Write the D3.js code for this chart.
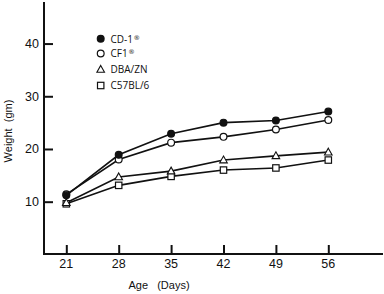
<!DOCTYPE html>
<html><head><meta charset="utf-8">
<script src="https://cdn.jsdelivr.net/npm/d3@7"></script>
<style>body{margin:0;background:#fff}svg{display:block}</style>
</head><body>
<script>
const days = [21, 28, 35, 42, 49, 56];
const cd1 = [11.2, 18.9, 22.9, 25.0, 25.4, 27.1];
const cf1 = [11.4, 18.0, 21.2, 22.3, 23.7, 25.5];
const dba = [9.8, 14.7, 15.8, 17.9, 18.7, 19.4];
const c57 = [9.6, 13.1, 14.8, 16.0, 16.4, 17.9];
const yTicks = [10, 20, 30, 40];
const seriesNames = ["CD-1", "CF1", "DBA/ZN", "C57BL/6"];
const seriesMarks = ["\u00ae", "\u00ae", "", ""];

const W = 384, H = 294;
const svg = d3.select("body").append("svg").attr("width", W).attr("height", H);
const x = d3.scaleLinear().domain([21, 56]).range([66.3, 328.3]);
const y = d3.scaleLinear().domain([0, 48]).range([254.4, 1.4]);
const font = "Arial, 'Liberation Sans', sans-serif";

// axes lines
const axisY = 254;
svg.append("line").attr("x1", 44).attr("x2", 44).attr("y1", 2).attr("y2", axisY + 1)
  .attr("stroke", "#111").attr("stroke-width", 2);
svg.append("line").attr("x1", 43).attr("x2", 383).attr("y1", axisY).attr("y2", axisY)
  .attr("stroke", "#111").attr("stroke-width", 2);

// y axis ticks
const yAxis = d3.axisRight(y).tickValues(yTicks).tickSize(9).tickFormat("");
const gy = svg.append("g").attr("transform", "translate(44,0)").call(yAxis);
gy.select(".domain").remove();
gy.selectAll(".tick line").attr("stroke", "#111").attr("stroke-width", 2);
svg.selectAll(".ylab").data(yTicks).enter().append("text")
  .attr("x", 39).attr("y", d => y(d) + 4.5).attr("text-anchor", "end")
  .attr("font-family", font).attr("font-size", 12.5).attr("fill", "#111").text(d => d);

// x axis ticks
const xAxis = d3.axisTop(x).tickValues(days).tickSize(9).tickFormat("");
const gx = svg.append("g").attr("transform", `translate(0,${axisY})`).call(xAxis);
gx.select(".domain").remove();
gx.selectAll(".tick line").attr("stroke", "#111").attr("stroke-width", 2);
svg.selectAll(".xlab").data(days).enter().append("text")
  .attr("x", d => x(d)).attr("y", 268).attr("text-anchor", "middle")
  .attr("font-family", font).attr("font-size", 12.5).attr("fill", "#111").text(d => d);

// axis titles
svg.append("text").attr("x", 159).attr("y", 289).attr("text-anchor", "middle")
  .attr("font-family", font).attr("font-size", 11).attr("fill", "#111")
  .attr("xml:space", "preserve").text("Age   (Days)");
svg.append("text").attr("transform", "translate(12,131) rotate(-90)").attr("text-anchor", "middle")
  .attr("font-family", font).attr("font-size", 11).attr("fill", "#111")
  .attr("xml:space", "preserve").text("Weight  (gm)");

const series = [
  {name: seriesNames[0], mark: seriesMarks[0], vals: cd1, shape: "circle", fill: "#111"},
  {name: seriesNames[1], mark: seriesMarks[1], vals: cf1, shape: "circle", fill: "#fff"},
  {name: seriesNames[2], mark: seriesMarks[2], vals: dba, shape: "triangle", fill: "#fff"},
  {name: seriesNames[3], mark: seriesMarks[3], vals: c57, shape: "square", fill: "#fff"}
];
const line = d3.line().x((d, i) => x(days[i])).y(d => y(d));
function drawMarker(g, shape, fill, cx, cy) {
  if (shape === "circle") {
    g.append("circle").attr("cx", cx).attr("cy", cy).attr("r", 3.4)
      .attr("fill", fill).attr("stroke", "#111").attr("stroke-width", 1.2);
  } else if (shape === "square") {
    g.append("rect").attr("x", cx - 3.2).attr("y", cy - 3.2).attr("width", 6.4).attr("height", 6.4)
      .attr("fill", fill).attr("stroke", "#111").attr("stroke-width", 1.2);
  } else {
    g.append("path").attr("d", `M${cx},${cy - 4}L${cx + 3.8},${cy + 2.8}L${cx - 3.8},${cy + 2.8}Z`)
      .attr("fill", fill).attr("stroke", "#111").attr("stroke-width", 1.1);
  }
}
// lines
series.forEach(s => {
  svg.append("path").datum(s.vals).attr("d", line).attr("fill", "none")
    .attr("stroke", "#111").attr("stroke-width", 1.6);
});
// markers (draw bottom series first so circles on top)
[...series].reverse().forEach(s => {
  const g = svg.append("g");
  s.vals.forEach((v, i) => drawMarker(g, s.shape, s.fill, x(days[i]), y(v)));
});

// legend
const legY = [38.7, 53.5, 69.5, 85.5];
series.forEach((s, i) => {
  const g = svg.append("g");
  drawMarker(g, s.shape, s.fill, 100.7, legY[i]);
  const t = g.append("text").attr("x", 110.5).attr("y", legY[i] + 3.8)
    .attr("font-family", "'Open Sans', 'Noto Sans', sans-serif").attr("font-size", 10)
    .attr("fill", "#111").text(s.name);
  if (s.mark) {
    t.append("tspan").attr("font-family", "'DejaVu Sans'").attr("font-size", 6.5)
      .attr("dy", -3).attr("dx", 0.5).text(s.mark + "\uFE0E");
  }
});
</script>
</body></html>
